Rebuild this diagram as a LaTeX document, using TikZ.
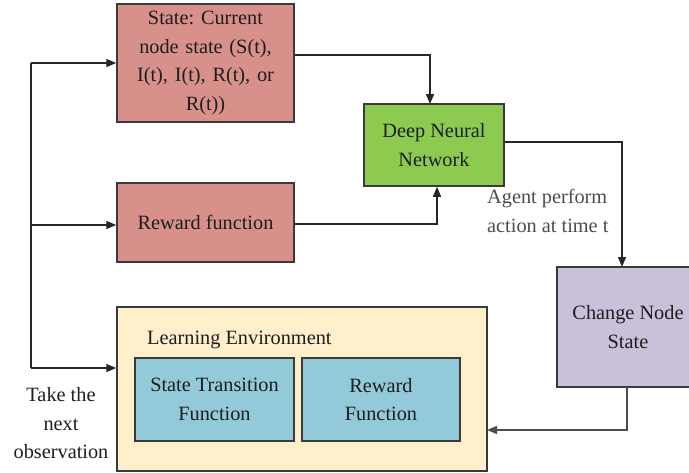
\documentclass[tikz,border=0pt]{standalone}
\usepackage{fontspec}
\setmainfont{Liberation Serif}
\usetikzlibrary{arrows.meta,calc}
\frenchspacing
\definecolor{pinkbox}{HTML}{D8908B}
\definecolor{greenbox}{HTML}{8CCB50}
\definecolor{lavbox}{HTML}{C9C0DA}
\definecolor{creambox}{HTML}{FFEFCB}
\definecolor{bluebox}{HTML}{92CADA}
\definecolor{boxline}{HTML}{3A3A3A}
\definecolor{txt}{HTML}{1E1E1E}
\tikzset{
  box/.style={draw=boxline, line width=1.5pt, align=center, inner sep=2pt, text=txt,
    font=\fontsize{20.3}{28.5}\selectfont},
  arr/.style={line width=1.4pt, draw=black!85, -{Triangle[length=10pt,width=8pt]}},
  ln/.style={line width=1.4pt, draw=black!85},
  lbl/.style={text=txt, font=\fontsize{20.3}{28.5}\selectfont, align=center, inner sep=0pt}
}
\begin{document}
\begin{tikzpicture}[x=1pt,y=-1pt]
\useasboundingbox (0,0) rectangle (689,472);
% boxes
\node[box, fill=pinkbox, minimum width=177pt, minimum height=118pt, text width=165pt] (state) at (205.5,63)
  {State: Current\\node state (S(t),\\I(t), I(t), R(t), or\\R(t))};
\node[box, fill=pinkbox, minimum width=177pt, minimum height=79pt] (reward) at (205.5,222.5) {Reward function};
\node[box, fill=greenbox, minimum width=140pt, minimum height=82pt] (dnn) at (434,145) {Deep Neural\\Network};
\node[box, fill=lavbox, minimum width=142pt, minimum height=120pt] (change) at (628,327) {Change Node\\State};
\node[box, fill=creambox, minimum width=370pt, minimum height=164pt] (le) at (302,389) {};
\node[lbl, anchor=west] (letitle) at (147,340) {Learning Environment};
\node[box, fill=bluebox, minimum width=159pt, minimum height=83pt] (st) at (214.5,399.5) {State Transition\\Function};
\node[box, fill=bluebox, minimum width=158pt, minimum height=83pt] (rf) at (381,399.5) {Reward\\Function};
% labels
\node[lbl, text=black!70, align=left, anchor=west] (agent) at (487,211) {Agent perform\\action at time t};
\node[lbl] (obs) at (61,423.5) {Take the\\next\\observation};
% connectors
\coordinate (ctop) at (31,63);
\coordinate (cmid) at (31,225);
\coordinate (cbot) at (31,368);
\coordinate (dnnin) at (430,104);
\coordinate (chin) at (622,267);
\coordinate (chout) at (627,387);
\coordinate (lein) at (487,430);
\draw[ln] (ctop) -- (cbot);
\draw[arr] (ctop) -- (state.west);
\draw[arr] (cmid) -- (cmid -| reward.west);
\draw[arr] (cbot) -- (cbot -| le.west);
\draw[arr] ([yshift=8pt]state.east) -| (dnnin);
\draw[arr] ([yshift=-1.5pt]reward.east) -| ([xshift=3pt]dnn.south);
\draw[arr] ([yshift=3pt]dnn.east) -| (chin);
\draw[arr, draw=black!70] (chout) |- (lein);
\end{tikzpicture}
\end{document}
